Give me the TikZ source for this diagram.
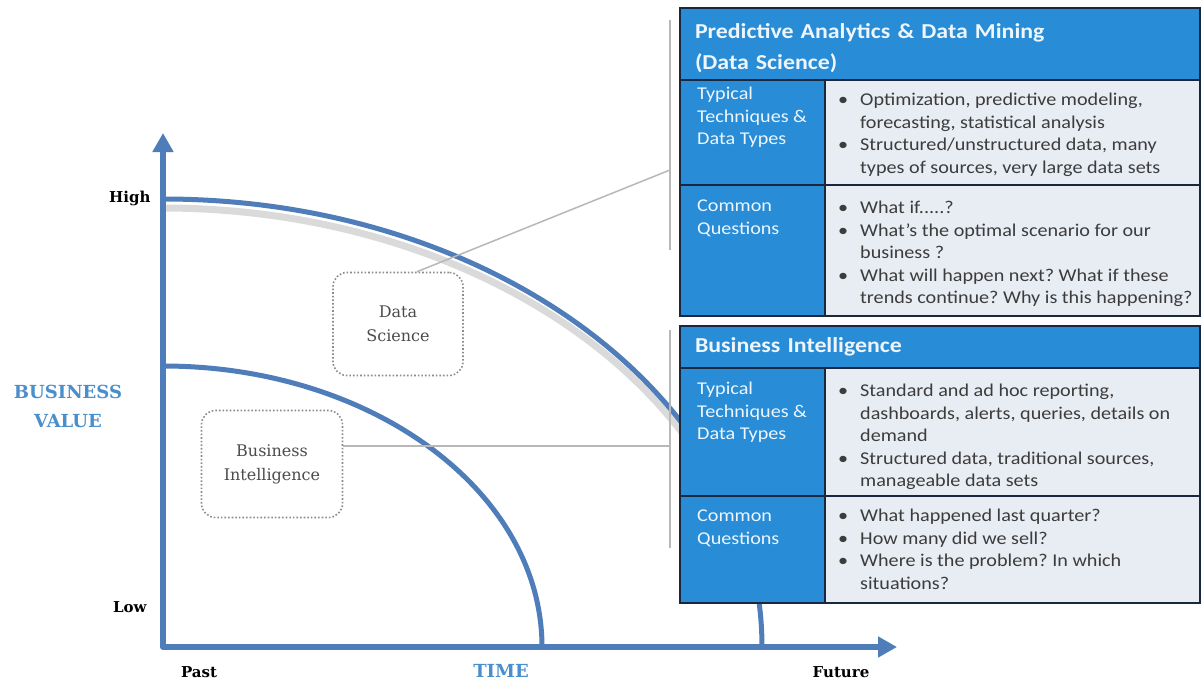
\documentclass[tikz,border=0pt]{standalone}
\usepackage{fontspec}
\setmainfont{DejaVu Serif}
\newfontfamily\calibri[FakeStretch=1.12]{Carlito}
\usetikzlibrary{positioning,calc,arrows.meta}
\usepackage{xcolor}
\definecolor{axisblue}{RGB}{79,125,186}
\definecolor{labelblue}{RGB}{74,143,203}
\definecolor{tableblue}{RGB}{40,140,214}
\definecolor{tableline}{RGB}{25,40,62}
\definecolor{cellgray}{RGB}{232,236,243}
\definecolor{txtgray}{RGB}{60,60,60}
\newcommand\bpt{\makebox[22pt][l]{\textbullet}}
\newcommand\bcont{\hspace*{22pt}}
\frenchspacing

\begin{document}
\begin{tikzpicture}[x=1pt, y=-1pt,
    axis/.style={line width=6pt, draw=axisblue, line join=round},
    curve/.style={line width=5pt, draw=axisblue},
    tag/.style={font=\bfseries\fontsize{15}{18}\selectfont},
    bigtag/.style={font=\bfseries\fontsize{18}{29}\selectfont, text=labelblue, align=center},
    dotbox/.style={draw=black!45, dotted, line width=1.6pt, rounded corners=14pt, align=center,
        text=black!70, font=\fontsize{16}{24}\selectfont},
    link/.style={draw=black!28, line width=1.5pt},
    headcell/.style={draw=tableline, fill=tableblue, line width=1.5pt, outer sep=0pt, anchor=north west,
        text width=490pt, inner xsep=15pt, inner ysep=0pt, align=left, text=white!92!tableblue,
        font=\calibri\bfseries\fontsize{21.3}{31}\selectfont},
    sidecell/.style={draw=tableline, fill=tableblue, line width=1.5pt, outer sep=0pt, minimum width=145pt},
    bodycell/.style={draw=tableline, fill=cellgray, line width=1.5pt, outer sep=0pt, minimum width=375pt},
    sidetext/.style={anchor=north west, inner sep=0pt, align=left, text=white!92!tableblue,
        font=\calibri\fontsize{18}{22.5}\selectfont},
    listtext/.style={anchor=north west, inner sep=0pt, align=left, text=txtgray,
        font=\calibri\fontsize{18}{22.5}\selectfont\frenchspacing}]

\useasboundingbox[fill=white] (0,0) rectangle (1203,683);

% axes
\coordinate (origin) at (163,647);
\coordinate (vTip) at (163,133);
\coordinate (tTip) at (897,647);

% shadow and curves
\draw[line width=7pt, black!18, opacity=0.8] (163,208) arc[start angle=270, end angle=330, x radius=599, y radius=448];
\draw[curve] (163,199) arc[start angle=270, end angle=360, x radius=599, y radius=448];
\draw[curve] (163,366) arc[start angle=270, end angle=360, x radius=379, y radius=281];

\draw[axis, {Triangle[width=20pt,length=19pt]}-{Triangle[width=20pt,length=19pt]}] (vTip) -- (origin) -- (tTip);

\node[tag, anchor=east] (high) at (154,198) {High};
\node[tag, anchor=east] (low) at (150,607) {Low};
\node[tag] (past) at (199,672) {Past};
\node[tag] (future) at (841,672) {Future};
\node[bigtag] (value) at (68,406) {BUSINESS\\VALUE};
\node[bigtag] (time) at (501,671) {TIME};

% labelled regions
\node[dotbox, minimum width=130pt, minimum height=103pt] (dsBox) at (398,324) {Data\\Science};
\node[dotbox, minimum width=141pt, minimum height=107pt] (biBox) at (272,464) {Business\\Intelligence};

\coordinate (dsJoin) at (670,170);
\coordinate (biJoin) at (670,446);
\draw[link] (670,20) -- (670,250);
\draw[link] (670,330) -- (670,548);
\draw[link] ([xshift=19pt]dsBox.north) -- (dsJoin);
\draw[link] (biBox.east |- biJoin) -- (biJoin);

% data science table
\node[headcell, minimum height=72pt] (dsHead) at (680,8) {\rule{0pt}{24pt}Predictive Analytics \& Data Mining\\(Data Science)};
\node[sidecell, minimum height=105pt, below right=0pt and 0pt of dsHead.south west] (dsTech) {};
\node[bodycell, minimum height=105pt, below right=0pt and 0pt of dsTech.north east] (dsTechR) {};
\node[sidecell, minimum height=131pt, below right=0pt and 0pt of dsTech.south west] (dsAsk) {};
\node[bodycell, minimum height=131pt, below right=0pt and 0pt of dsAsk.north east] (dsAskR) {};

\node[sidetext] at ([shift={(17pt,-7pt)}]dsTech.north west) {Typical\\Techniques \&\\Data Types};
\node[listtext] at ([shift={(13pt,-13pt)}]dsTechR.north west)
    {\bpt Optimization, predictive modeling,\\ \bcont forecasting, statistical analysis\\
     \bpt Structured/unstructured data, many\\ \bcont types of sources, very large data sets};
\node[sidetext] at ([shift={(17pt,-15pt)}]dsAsk.north west) {Common\\Questions};
\node[listtext] at ([shift={(13pt,-16pt)}]dsAskR.north west)
    {\bpt What if.....?\\ \bpt What’s the optimal scenario for our\\ \bcont business ?\\
     \bpt What will happen next? What if these\\ \bcont trends continue? Why is this happening?};

% business intelligence table
\node[headcell, minimum height=42pt] (biHead) at (680,326) {Business Intelligence};
\node[sidecell, minimum height=128pt, below right=0pt and 0pt of biHead.south west] (biTech) {};
\node[bodycell, minimum height=128pt, below right=0pt and 0pt of biTech.north east] (biTechR) {};
\node[sidecell, minimum height=107pt, below right=0pt and 0pt of biTech.south west] (biAsk) {};
\node[bodycell, minimum height=107pt, below right=0pt and 0pt of biAsk.north east] (biAskR) {};

\node[sidetext] at ([shift={(17pt,-14pt)}]biTech.north west) {Typical\\Techniques \&\\Data Types};
\node[listtext] at ([shift={(13pt,-16pt)}]biTechR.north west)
    {\bpt Standard and ad hoc reporting,\\ \bcont dashboards, alerts, queries, details on\\ \bcont demand\\
     \bpt Structured data, traditional sources,\\ \bcont manageable data sets};
\node[sidetext] at ([shift={(17pt,-14pt)}]biAsk.north west) {Common\\Questions};
\node[listtext] at ([shift={(13pt,-13pt)}]biAskR.north west)
    {\bpt What happened last quarter?\\ \bpt How many did we sell?\\
     \bpt Where is the problem? In which\\ \bcont situations?};
\end{tikzpicture}
\end{document}
